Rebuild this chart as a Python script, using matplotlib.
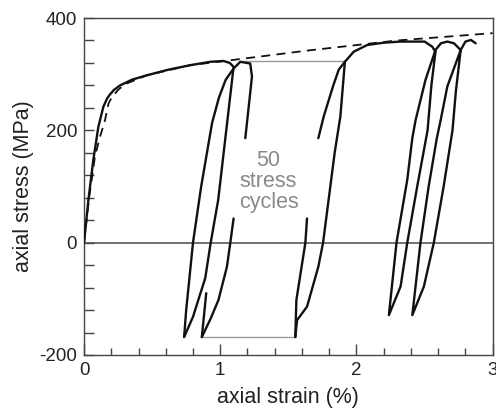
import matplotlib
matplotlib.use("Agg")
import matplotlib.pyplot as plt
from matplotlib.ticker import MultipleLocator

plt.rcParams["font.family"] = ["Liberation Sans", "DejaVu Sans"]
plt.rcParams["axes.unicode_minus"] = False

# (strain in %, stress in MPa)
# first loading, first peak and unloading to compression
loading_strain = [0.0, 0.032, 0.068, 0.105, 0.142, 0.17, 0.191, 0.22, 0.265, 0.35, 0.461, 0.62, 0.78, 0.926, 1.024,
                  1.07, 1.098, 0.985, 0.93, 0.89, 0.80, 0.735]
loading_stress = [0, 76, 147, 206, 242, 257, 264, 272, 280, 290, 298, 308, 316, 322, 323.5,
                  320, 313, 76, 0, -63, -132, -168]
# reload from the first compression tip, second peak, start of unloading
reload1_strain = [0.735, 0.75, 0.80, 0.86, 0.94, 0.99, 1.04, 1.098, 1.147, 1.22, 1.233, 1.184]
reload1_stress = [-168, -120, 0, 100, 213, 258, 290, 310, 322, 319, 296, 186]
# end of an unloading before the cycle gap, then reload
unload2_strain = [0.897, 0.865]
unload2_stress = [-90, -168]
reload2_strain = [0.865, 0.93, 0.987, 1.049, 1.074, 1.098]
reload2_stress = [-168, -135, -102, -43, 0, 43]
# after the 50 cycles
unload3_strain = [1.637, 1.625, 1.559, 1.551]
unload3_stress = [43, 0, -102, -168]
reload3_strain = [1.551, 1.564, 1.637, 1.72, 1.755, 1.84, 1.882, 1.915]
reload3_stress = [-168, -138, -114, -43, 0, 160, 225, 322]
# curved reload arriving at the upper gap end, then second yield plateau
plateau_strain = [1.72, 1.76, 1.83, 1.87, 1.915, 1.98, 2.08, 2.2, 2.32, 2.50, 2.556, 2.58]
plateau_stress = [186, 225, 280, 308, 322, 340, 352, 356, 358, 358, 349, 340]
# last two loops
loops_strain = [2.58, 2.55, 2.522, 2.446, 2.373, 2.324, 2.238,
                2.294, 2.373, 2.41, 2.434, 2.446, 2.507, 2.58, 2.62, 2.667, 2.716, 2.765,
                2.73, 2.705, 2.64, 2.568, 2.495, 2.41,
                2.47, 2.53, 2.59, 2.618, 2.667, 2.765, 2.80, 2.84, 2.875]
loops_stress = [340, 280, 200, 100, 0, -78, -129,
                0, 112, 186, 218, 230, 290, 343, 355, 358, 355, 343,
                270, 200, 100, 0, -78, -129,
                0, 100, 186, 218, 278, 343, 358, 361, 355]
# monotonic reference curve (dashed)
monotonic_strain = [0.0, 0.04, 0.08, 0.118, 0.154, 0.18, 0.2, 0.25, 0.3, 0.46, 0.78, 1.05, 1.64, 2.3, 3.0]
monotonic_stress = [0, 85, 153, 189, 218, 248, 257, 272, 282, 298, 316, 324, 342, 360, 373]
# grey connectors across the skipped cycles
gap_top_strain = [1.16, 1.915]
gap_top_stress = [323, 323]
gap_bottom_strain = [0.865, 1.551]
gap_bottom_stress = [-168, -168]

fig = plt.figure(figsize=(4.96, 4.11), dpi=100)
ax = fig.add_axes([0.1694, 0.1363, 0.8239, 0.8199])

ax.axhline(0, color="#666666", lw=1.3, zorder=1)
ax.plot(gap_top_strain, gap_top_stress, color="#9a9a9a", lw=1.0, zorder=2)
ax.plot(gap_bottom_strain, gap_bottom_stress, color="#9a9a9a", lw=1.0, zorder=2)
ax.plot(monotonic_strain, monotonic_stress, color="#111111", lw=1.3, dashes=(5, 3.5), zorder=3)

for xs, ys in [(loading_strain, loading_stress), (reload1_strain, reload1_stress),
               (unload2_strain, unload2_stress), (reload2_strain, reload2_stress),
               (unload3_strain, unload3_stress), (reload3_strain, reload3_stress),
               (plateau_strain, plateau_stress), (loops_strain, loops_stress)]:
    ax.plot(xs, ys, color="#111111", lw=1.7, solid_joinstyle="round", solid_capstyle="round", zorder=4)

ax.text(1.355, 108, "50\nstress\ncycles", color="#8a8a8a", fontsize=15.5,
        ha="center", va="center", linespacing=1.0)

ax.set_xlim(0, 3)
ax.set_ylim(-200, 400)
ax.xaxis.set_major_locator(MultipleLocator(1))
ax.xaxis.set_minor_locator(MultipleLocator(0.2))
ax.yaxis.set_major_locator(MultipleLocator(200))
ax.yaxis.set_minor_locator(MultipleLocator(40))
ax.tick_params(axis="both", which="both", direction="in", top=False, right=False,
               color="#444444", labelcolor="#222222", labelsize=13.5, pad=5)
ax.tick_params(axis="x", which="major", length=8, width=1)
ax.tick_params(axis="x", which="minor", length=5, width=1)
ax.tick_params(axis="y", which="both", length=7, width=1)
for spine in ax.spines.values():
    spine.set_color("#444444")
    spine.set_linewidth(1.0)

ax.set_xlabel("axial strain (%)", fontsize=15.5, color="#222222", labelpad=6)
ax.set_ylabel("axial stress (MPa)", fontsize=15.5, color="#222222", labelpad=4)

fig.savefig("out.png", dpi=100)
